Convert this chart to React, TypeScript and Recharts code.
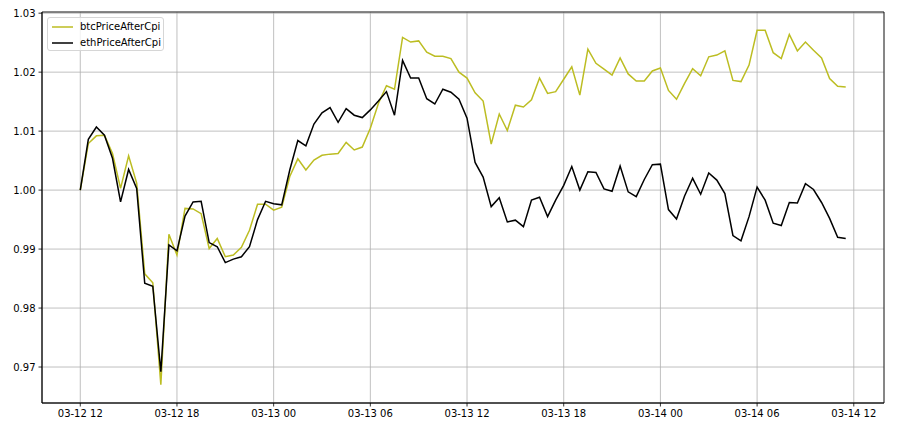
import React from 'react';
import { LineChart, Line, XAxis, YAxis, CartesianGrid, ReferenceArea } from 'recharts';

// 30-minute samples starting 03-12 12:00 (hours offset from start)
const STEP_HOURS = 0.5;

const btcPriceAfterCpi = [
  1.0, 1.0079, 1.0092, 1.0093, 1.0062, 1.0003, 1.0058, 1.0012, 0.9858, 0.9843,
  0.967, 0.9925, 0.989, 0.9969, 0.9968, 0.996, 0.9901, 0.9918, 0.9887, 0.989,
  0.9903, 0.9932, 0.9976, 0.9976, 0.9966, 0.9971, 1.0023, 1.0053, 1.0034, 1.0051,
  1.0059, 1.0061, 1.0062, 1.0081, 1.0068, 1.0073, 1.0105, 1.0147, 1.0177, 1.0171,
  1.0259, 1.0251, 1.0253, 1.0234, 1.0227, 1.0227, 1.0223, 1.02, 1.019, 1.0165,
  1.0151, 1.0078, 1.0129, 1.0101, 1.0144, 1.0141, 1.0153, 1.019, 1.0164, 1.0167,
  1.0188, 1.0209, 1.0161, 1.0239, 1.0215, 1.0205, 1.0195, 1.0224, 1.0197, 1.0185,
  1.0185, 1.0202, 1.0207, 1.0169, 1.0154, 1.0181, 1.0206, 1.0194, 1.0226, 1.0229,
  1.0236, 1.0186, 1.0184, 1.0212, 1.0271, 1.0271, 1.0233, 1.0223, 1.0264, 1.0236,
  1.0251, 1.0237, 1.0224, 1.0189, 1.0176, 1.0175,
];

const ethPriceAfterCpi = [
  1.0, 1.0086, 1.0107, 1.0093, 1.0054, 0.998, 1.0035, 1.0003, 0.9842, 0.9837,
  0.9692, 0.9907, 0.9897, 0.9956, 0.998, 0.9981, 0.9911, 0.9904, 0.9877, 0.9883,
  0.9887, 0.9904, 0.995, 0.9981, 0.9977, 0.9975, 1.0034, 1.0084, 1.0075, 1.0112,
  1.0131, 1.014, 1.0115, 1.0138, 1.0127, 1.0123, 1.0136, 1.0151, 1.0167, 1.0127,
  1.022, 1.019, 1.019, 1.0155, 1.0146, 1.0171, 1.0166, 1.0154, 1.0122, 1.0047,
  1.0022, 0.9972, 0.9987, 0.9946, 0.9949, 0.9938, 0.9983, 0.9988, 0.9955, 0.9983,
  1.0008, 1.004, 1.0, 1.0031, 1.003, 1.0002, 0.9998, 1.0041, 0.9997, 0.9989,
  1.0018, 1.0043, 1.0044, 0.9967, 0.9951, 0.999, 1.002, 0.9993, 1.0029, 1.0017,
  0.9994, 0.9923, 0.9914, 0.9955, 1.0005, 0.9983, 0.9944, 0.994, 0.9979, 0.9978,
  1.0011, 1.0001, 0.9979, 0.9952, 0.992, 0.9918,
];

const xTickHours = [0, 6, 12, 18, 24, 30, 36, 42, 48];
const xTickLabels = ['03-12 12', '03-12 18', '03-13 00', '03-13 06', '03-13 12', '03-13 18', '03-14 00', '03-14 06', '03-14 12'];
const yTicks = [0.97, 0.98, 0.99, 1.0, 1.01, 1.02, 1.03];

const seriesNames = ['btcPriceAfterCpi', 'ethPriceAfterCpi'];
const seriesColors = ['#bcbd22', '#000000'];

const X_MIN = -2.375;
const X_MAX = 49.875;
const Y_MIN = 0.9639;
const Y_MAX = 1.0302;

const data = btcPriceAfterCpi.map((b, i) => ({
  t: i * STEP_HOURS,
  btcPriceAfterCpi: b,
  ethPriceAfterCpi: ethPriceAfterCpi[i],
}));

const FONT = 'DejaVu Sans, sans-serif';
const tickStyle = { fill: '#000', fontSize: 10, fontFamily: FONT };

export default function App() {
  return (
    <div style={{ position: 'absolute', left: 0, top: 0, width: 898, height: 425, background: '#fff' }}>
      <LineChart width={898} height={425} data={data} margin={{ top: 12, right: 14, left: 0, bottom: 0 }}>
        <CartesianGrid stroke="#b0b0b0" strokeWidth={0.8} />
        <XAxis
          dataKey="t"
          type="number"
          domain={[X_MIN, X_MAX]}
          ticks={xTickHours}
          tickFormatter={(v: number) => xTickLabels[xTickHours.indexOf(v)] ?? ''}
          allowDataOverflow
          height={22}
          tickSize={3.5}
          tickMargin={3}
          tick={tickStyle}
          axisLine={{ stroke: '#000', strokeWidth: 0.8 }}
          tickLine={{ stroke: '#000', strokeWidth: 0.8 }}
          interval={0}
        />
        <YAxis
          type="number"
          domain={[Y_MIN, Y_MAX]}
          ticks={yTicks}
          tickFormatter={(v: number) => v.toFixed(2)}
          allowDataOverflow
          width={42}
          tickSize={3.5}
          tickMargin={3}
          tick={tickStyle}
          axisLine={{ stroke: '#000', strokeWidth: 0.8 }}
          tickLine={{ stroke: '#000', strokeWidth: 0.8 }}
          interval={0}
        />
        <Line
          type="linear"
          dataKey="btcPriceAfterCpi"
          stroke={seriesColors[0]}
          strokeWidth={1.5}
          dot={false}
          isAnimationActive={false}
        />
        <Line
          type="linear"
          dataKey="ethPriceAfterCpi"
          stroke={seriesColors[1]}
          strokeWidth={1.5}
          dot={false}
          isAnimationActive={false}
        />
        <ReferenceArea
          x1={X_MIN}
          x2={X_MAX}
          y1={Y_MIN}
          y2={Y_MAX}
          fill="none"
          fillOpacity={0}
          stroke="#000"
          strokeWidth={0.8}
          ifOverflow="visible"
        />
      </LineChart>
      <div
        style={{
          position: 'absolute',
          left: 47,
          top: 17,
          width: 117,
          height: 34,
          boxSizing: 'border-box',
          border: '1px solid #d6d6d6',
          borderRadius: 3,
          background: 'rgba(255,255,255,0.8)',
          fontFamily: FONT,
          fontSize: 10,
          color: '#000',
        }}
      >
        {seriesNames.map((name, i) => (
          <div key={name} style={{ position: 'absolute', left: 3, top: 2 + i * 15.5, height: 14, display: 'flex', alignItems: 'center' }}>
            <svg width={22} height={14} style={{ display: 'block' }}>
              <line x1={1} y1={7} x2={22} y2={7} stroke={seriesColors[i]} strokeWidth={1.5} />
            </svg>
            <span style={{ marginLeft: 7, whiteSpace: 'nowrap', lineHeight: '14px' }}>{name}</span>
          </div>
        ))}
      </div>
    </div>
  );
}
